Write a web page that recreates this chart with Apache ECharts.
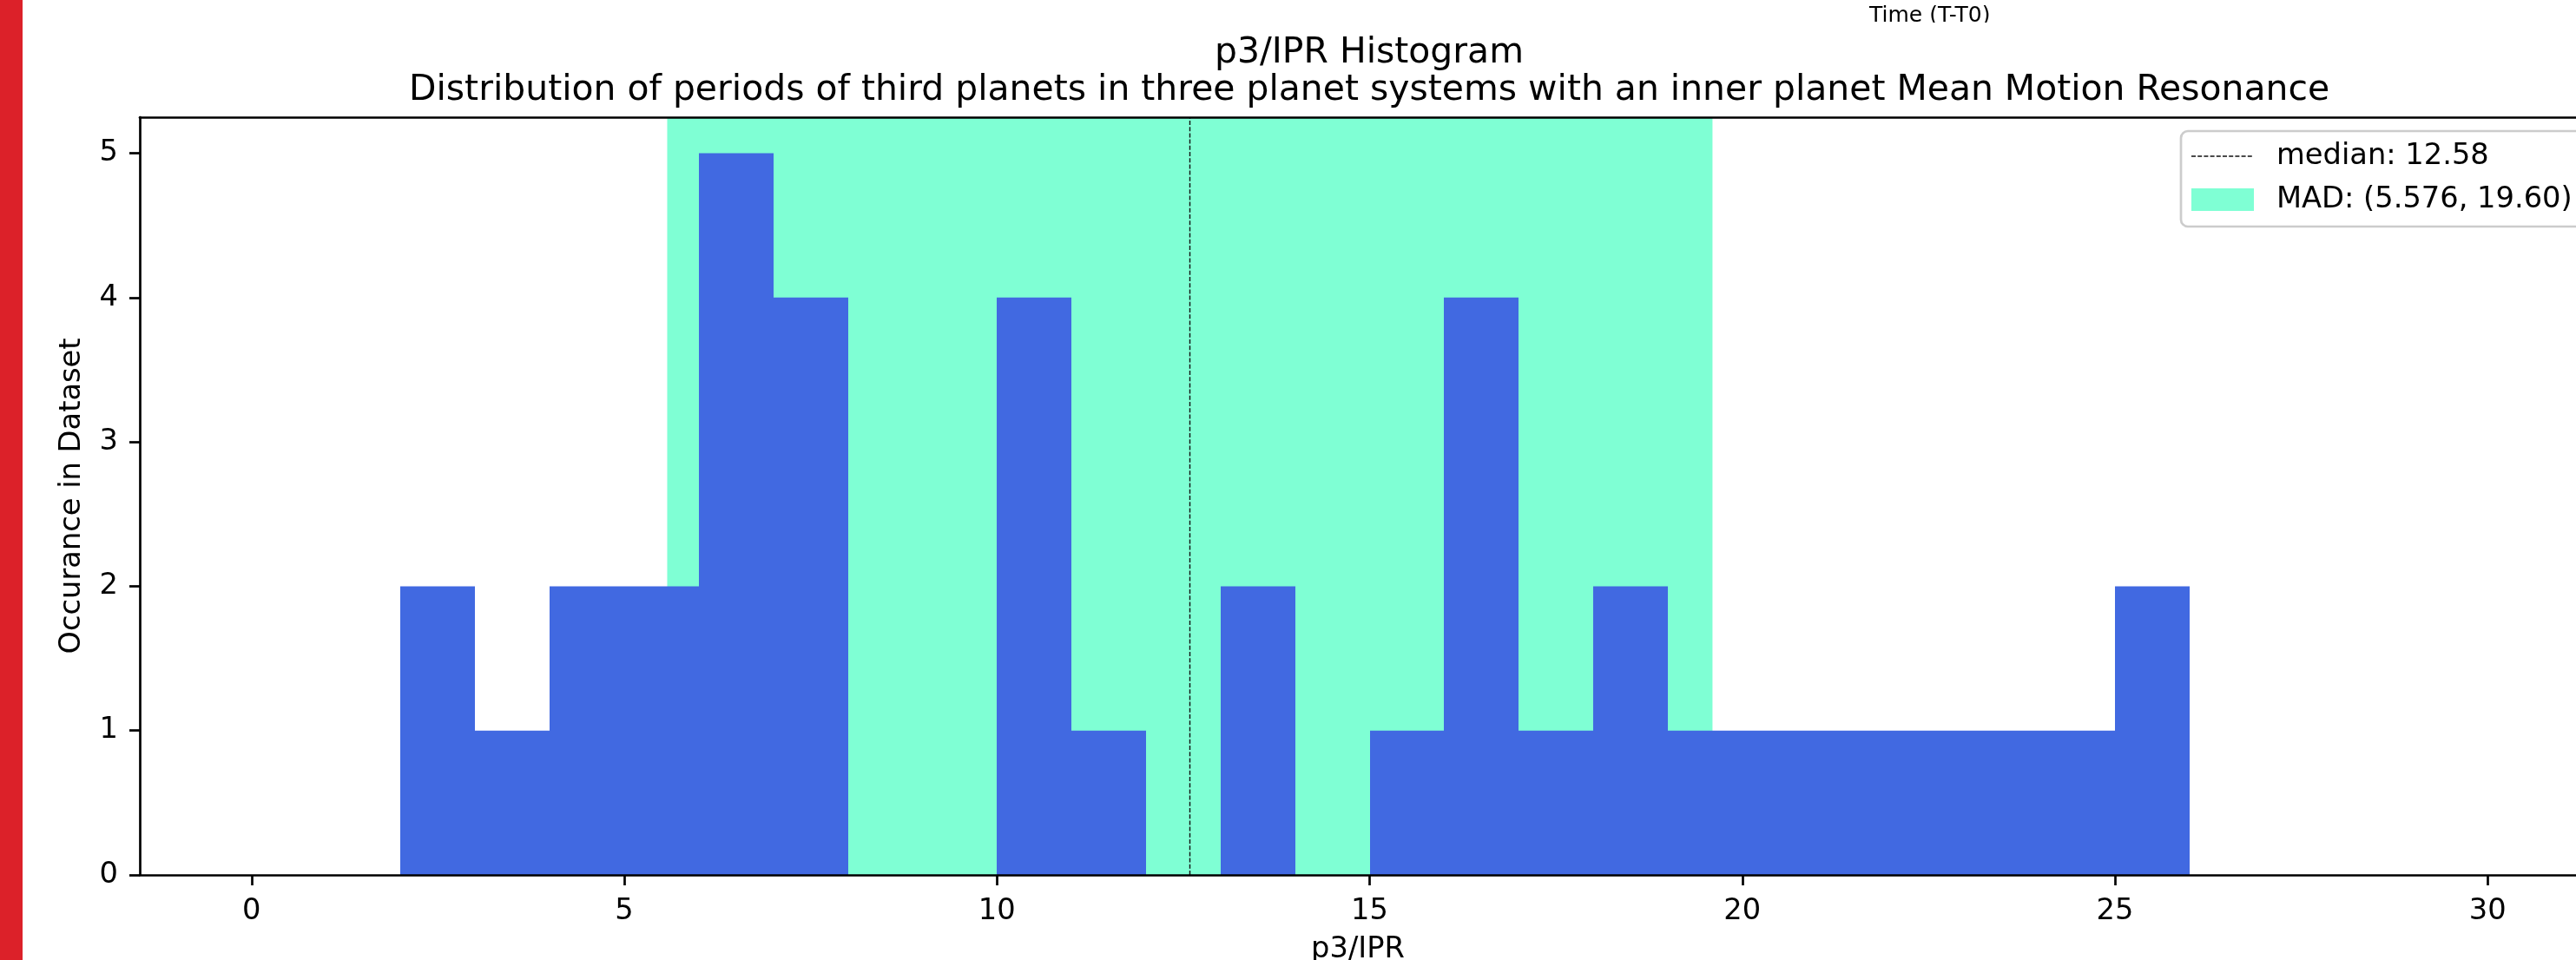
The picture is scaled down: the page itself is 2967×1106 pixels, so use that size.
<!DOCTYPE html>
<html><head><meta charset="utf-8">
<script src="https://cdn.jsdelivr.net/npm/echarts@6/dist/echarts.min.js"></script>
<style>html,body{margin:0;padding:0;background:#fff}#c{width:2967px;height:1106px}</style>
</head><body><div id="c"></div>
<script>
// ---- data ----
const binStarts = [2,3,4,5,6,7,8,9,10,11,12,13,14,15,16,17,18,19,20,21,22,23,24,25];
const binWidth = 1;
const counts = [2,1,2,2,5,4,0,0,4,1,0,2,0,1,4,1,2,1,1,1,1,1,1,2];
const median = 12.58;
const madRange = [5.576, 19.60];
const xTicks = [0,5,10,15,20,25,30];
const yTicks = [0,1,2,3,4,5];
const titleText = 'p3/IPR Histogram';
const subtitleText = 'Distribution of periods of third planets in three planet systems with an inner planet Mean Motion Resonance';
const xName = 'p3/IPR';
const yName = 'Occurance in Dataset';
const strayLabel = 'Time (T-T0)';

const FONT = '"DejaVu Sans", sans-serif';
const FS = 33.7;
const medianLabel = 'median: ' + median.toFixed(2);
const madLabel = 'MAD: (' + madRange[0].toPrecision(4) + ', ' + madRange[1].toPrecision(4) + ')';

const chart = echarts.init(document.getElementById('c'), null, {renderer: 'canvas'});

const histData = binStarts.map((s, i) => [s, s + binWidth, counts[i]]);

const axisCommon = {
  axisLine: {show: true, onZero: false, lineStyle: {color: '#000', width: 2.7}},
  splitLine: {show: false},
  z: 10
};

// visible x range: plot is cut by the right edge of the picture
const xMin = -1.5, xMax = 31.185;

const option = {
  backgroundColor: '#fff',
  animation: false,
  title: {
    text: titleText + '\n' + subtitleText,
    left: 1577, top: 40, padding: 0,
    textAlign: 'center',
    textStyle: {fontFamily: FONT, fontSize: 40.9, fontWeight: 'normal', color: '#000', lineHeight: 43}
  },
  grid: {left: 161, top: 135, right: 0, height: 873, show: false, containLabel: false, outerBoundsMode: 'none'},
  xAxis: [{
    ...axisCommon,
    type: 'value', min: xMin, max: xMax,
    axisTick: {show: true, customValues: xTicks, length: 12, lineStyle: {color: '#000', width: 2.7}},
    axisLabel: {customValues: xTicks, color: '#000', fontFamily: FONT, fontSize: FS, margin: 25},
    name: xName, nameLocation: 'middle', nameGap: 69,
    nameTextStyle: {fontFamily: FONT, fontSize: FS, color: '#000'}
  }, {
    ...axisCommon,
    type: 'value', min: xMin, max: xMax, position: 'top',
    axisTick: {show: false}, axisLabel: {show: false}
  }],
  yAxis: [{
    ...axisCommon,
    type: 'value', min: 0, max: 5.25,
    axisTick: {show: true, customValues: yTicks, length: 12, lineStyle: {color: '#000', width: 2.7}},
    axisLabel: {customValues: yTicks, color: '#000', fontFamily: FONT, fontSize: FS, margin: 25},
    name: yName, nameLocation: 'middle', nameGap: 61,
    nameTextStyle: {fontFamily: FONT, fontSize: FS, color: '#000'}
  }],
  series: [{
    type: 'line', name: 'mad', data: [], z: 1, silent: true,
    markArea: {
      silent: true,
      itemStyle: {color: '#7FFFD4', opacity: 1},
      label: {show: false},
      data: [[{xAxis: madRange[0]}, {xAxis: madRange[1]}]]
    }
  }, {
    type: 'custom', name: 'hist', data: histData, z: 3, silent: true,
    encode: {x: [0, 1], y: 2},
    renderItem: function (params, api) {
      const p0 = api.coord([api.value(0), 0]);
      const p1 = api.coord([api.value(1), api.value(2)]);
      const x0 = Math.round(p0[0]), x1 = Math.round(p1[0]);
      return {type: 'rect', shape: {x: x0, y: p1[1], width: x1 - x0, height: p0[1] - p1[1]},
        style: {fill: '#4169E1'}};
    }
  }, {
    type: 'line', name: 'median', data: [], z: 4, silent: true,
    markLine: {
      silent: true, symbol: ['none', 'none'],
      label: {show: false},
      lineStyle: {color: '#111', type: [5, 2.2], width: 1.4},
      data: [{xAxis: median}]
    }
  }],
  graphic: [
    {type: 'rect', shape: {x: 0, y: 0, width: 26, height: 1106}, style: {fill: '#dc2129'}, z: 100},
    {type: 'text', x: 2153, y: 18, style: {text: strayLabel, fontFamily: FONT, fontSize: 25, fill: '#000', verticalAlign: 'middle'}, z: 100},
    {type: 'rect', shape: {x: 2100, y: 26, width: 300, height: 16}, style: {fill: '#fff'}, z: 101},
    {type: 'rect', shape: {x: 2512, y: 151, width: 600, height: 110, r: 8}, style: {fill: '#fff', stroke: '#cccccc', lineWidth: 2.7}, z: 100},
    {type: 'line', shape: {x1: 2524, y1: 180, x2: 2595, y2: 180}, style: {stroke: '#111', lineWidth: 1.4, lineDash: [5, 2.2]}, z: 101},
    {type: 'text', x: 2622, y: 180, style: {text: medianLabel, fontFamily: FONT, fontSize: FS, fill: '#000', verticalAlign: 'middle'}, z: 101},
    {type: 'rect', shape: {x: 2524, y: 217, width: 72, height: 26}, style: {fill: '#7FFFD4'}, z: 101},
    {type: 'text', x: 2622, y: 230, style: {text: madLabel, fontFamily: FONT, fontSize: FS, fill: '#000', verticalAlign: 'middle'}, z: 101}
  ]
};
chart.setOption(option);
</script>
</body></html>
